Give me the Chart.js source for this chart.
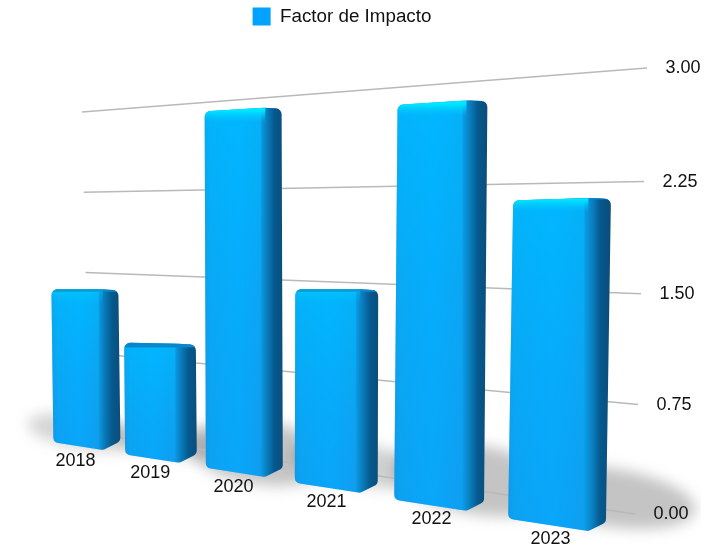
<!DOCTYPE html>
<html>
<head>
<meta charset="utf-8">
<title>Factor de Impacto</title>
<script src="https://cdn.jsdelivr.net/npm/chart.js@4"></script>
<style>
    html, body { margin: 0; padding: 0; background: #fff; }
    canvas { display: block; }
</style>
</head>
<body>
<canvas id="impactChart" width="716" height="548"></canvas>
<script>
// Chart data
const years = ['2018', '2019', '2020', '2021', '2022', '2023'];
const impactFactor = [1.34, 0.95, 2.74, 1.44, 2.7, 2.06];
const tickValues = [0, 0.75, 1.5, 2.25, 3];
const tickLabels = ['0.00', '0.75', '1.50', '2.25', '3.00'];

const labelFont = '18px "Liberation Sans", Arial, sans-serif';

// Front plane of the bars: perspective from flat (slot, value) to the page
function project(t, v) {
    const d = 1 - 0.0505 * t;
    return { x: (85.5 + 66.7 * t) / d, y: (450 - 10.6 * t - 120 * v) / d, d };
}

// Back wall with the grid lines
function wallLine(v) {
    return {
        x1: 89 - 2.33 * v, y1: 433 - 107 * v,
        x2: 635 + 4 * v, y2: 514 - 148.7 * v + 1.2 * v * (3 - v)
    };
}

function roundedPath(ctx, pts, r) {
    const n = pts.length;
    ctx.beginPath();
    ctx.moveTo((pts[n - 1][0] + pts[0][0]) / 2, (pts[n - 1][1] + pts[0][1]) / 2);
    pts.forEach((p, i) => {
        const next = pts[(i + 1) % n];
        ctx.arcTo(p[0], p[1], next[0], next[1], r);
    });
    ctx.closePath();
}

// Turns a Chart.js bar element into page geometry
function barGeometry(chart, el) {
    const xs = chart.scales.x;
    const ys = chart.scales.y;
    const step = xs.getPixelForValue(1) - xs.getPixelForValue(0);
    const t = (el.x - xs.getPixelForValue(0)) / step;
    const v = ys.getValueForPixel(el.y);
    const bottom = project(t, 0);
    const top = project(t, v);
    const w = (el.width / step) * 83.75 / Math.pow(bottom.d, 1.3);
    const height = bottom.y - top.y;
    const lean = (bottom.x - 300) * height * 0.000058;
    const side = w * (0.26 - 0.016 * t);
    return { t, v, cx: bottom.x, w, side, yB: bottom.y, yT: top.y, height, lean };
}

function drawFloorShadow(ctx, g) {
    const strength = 0.12 + 0.2 * Math.min(1, g.height / 300);
    ctx.save();
    ctx.beginPath();
    ctx.rect(0, 0, 701, 548);
    ctx.clip();
    ctx.filter = 'blur(7px)';
    ctx.fillStyle = `rgba(70,70,70,${strength})`;
    ctx.beginPath();
    ctx.ellipse(g.cx + (g.cx - 85) * 0.1, g.yB - 18 - 3.2 * g.t, g.w * 0.8 + g.height * 0.03, 6 + g.height * 0.07, 0.15, 0, Math.PI * 2);
    ctx.fill();
    ctx.restore();
}

function drawBar(ctx, g) {
    const shift = g.lean * 0.7;
    const L = g.cx - g.w / 2 - shift;
    const R = L + g.w;
    const F = R - g.side;
    const topSlope = (g.yT - 285) * 0.00035;
    const yFL = g.yB - 0.155 * (F - L);
    const yTF = g.yT + topSlope * (F - L);
    const pts = [
        [L + g.lean, g.yT],
        [F + g.lean, yTF],
        [R + g.lean, yTF + 1],
        [R, g.yB - g.side * 0.5],
        [F, g.yB],
        [L, yFL]
    ];

    ctx.save();
    roundedPath(ctx, pts, 6);
    ctx.clip();

    // Front and side faces come from one horizontal ramp
    const f = (F - L) / g.w;
    const body = ctx.createLinearGradient(L, 0, R + g.lean / 2, 0);
    body.addColorStop(0, '#0c9be4');
    body.addColorStop(0.07, '#06a8f4');
    body.addColorStop(f * 0.55, '#00aeff');
    body.addColorStop(f - 0.07, '#0aa2f0');
    body.addColorStop(f + 0.02, '#0a7fbf');
    body.addColorStop(f + (1 - f) * 0.55, '#05598f');
    body.addColorStop(1, '#0a4f7c');
    ctx.fillStyle = body;
    ctx.fillRect(L - 10, g.yT - 10, g.w + 30, g.height + 20);

    // Light falls off towards the floor on the front face
    const fade = ctx.createLinearGradient(0, g.yT, 0, g.yB);
    fade.addColorStop(0, 'rgba(0,190,255,0.55)');
    fade.addColorStop(1, 'rgba(25,150,240,0.35)');
    ctx.fillStyle = fade;
    ctx.fillRect(L - 10, g.yT - 10, F - L + 6, g.height + 20);

    // Top edge: a cap seen from above on short bars, a cyan glint on tall ones
    const cap = Math.max(0, (g.yT - 200) / 25);
    if (cap > 0) {
        ctx.fillStyle = '#0b86cc';
        ctx.fillRect(L - 10, g.yT - 10, g.w + 30, 9 + cap);
    }
    const glow = Math.min(1, Math.max(0, (310 - g.yT) / 90));
    const band = ctx.createLinearGradient(0, g.yT + cap - 1, 0, g.yT + cap + 11);
    band.addColorStop(0, `rgba(0,232,255,${glow})`);
    band.addColorStop(1, 'rgba(0,200,255,0)');
    ctx.fillStyle = band;
    ctx.fillRect(L - 10, g.yT + cap - 4, F - L + 10, 16);
    ctx.restore();
}

// Draws grid, bars and axis labels in perspective from the scales and elements
const perspectivePlugin = {
    id: 'perspective',
    beforeDatasetsDraw(chart) {
        const ctx = chart.ctx;
        const bars = chart.getDatasetMeta(0).data.map(el => barGeometry(chart, el));

        bars.forEach(g => drawFloorShadow(ctx, g));

        ctx.save();
        ctx.strokeStyle = '#b9b9b9';
        ctx.lineWidth = 1.5;
        chart.scales.y.ticks.forEach(tick => {
            const line = wallLine(tick.value);
            ctx.beginPath();
            ctx.moveTo(line.x1, line.y1);
            ctx.lineTo(line.x2, line.y2);
            ctx.stroke();
        });
        ctx.restore();

        bars.forEach(g => drawBar(ctx, g));

        ctx.save();
        ctx.font = labelFont;
        ctx.fillStyle = '#111';
        ctx.textAlign = 'center';
        ctx.textBaseline = 'middle';
        chart.scales.y.ticks.forEach((tick, i) => {
            const line = wallLine(tick.value);
            ctx.fillText(tickLabels[i], line.x2 + 36, line.y2 + 0.5);
        });
        bars.forEach((g, i) => {
            ctx.fillText(chart.data.labels[i], g.cx - 10, g.yB + 11.5 - g.t * 0.8);
        });
        ctx.restore();
    },
    beforeDatasetDraw() {
        return false;
    }
};

new Chart(document.getElementById('impactChart').getContext('2d'), {
    type: 'bar',
    data: {
        labels: years,
        datasets: [{
            label: 'Factor de Impacto',
            data: impactFactor,
            backgroundColor: '#00a2ff',
            barPercentage: 0.8,
            categoryPercentage: 1
        }]
    },
    options: {
        responsive: false,
        animation: false,
        layout: { padding: { right: 32 } },
        plugins: {
            tooltip: { enabled: false },
            legend: {
                position: 'top',
                labels: {
                    boxWidth: 18,
                    boxHeight: 18,
                    padding: 7,
                    color: '#111',
                    font: { family: '"Liberation Sans", Arial, sans-serif', size: 18.8 }
                }
            }
        },
        scales: {
            x: { display: false },
            y: {
                display: false,
                min: 0,
                max: 3,
                afterBuildTicks: scale => {
                    scale.ticks = tickValues.map(value => ({ value }));
                }
            }
        }
    },
    plugins: [perspectivePlugin]
});
</script>
</body>
</html>
